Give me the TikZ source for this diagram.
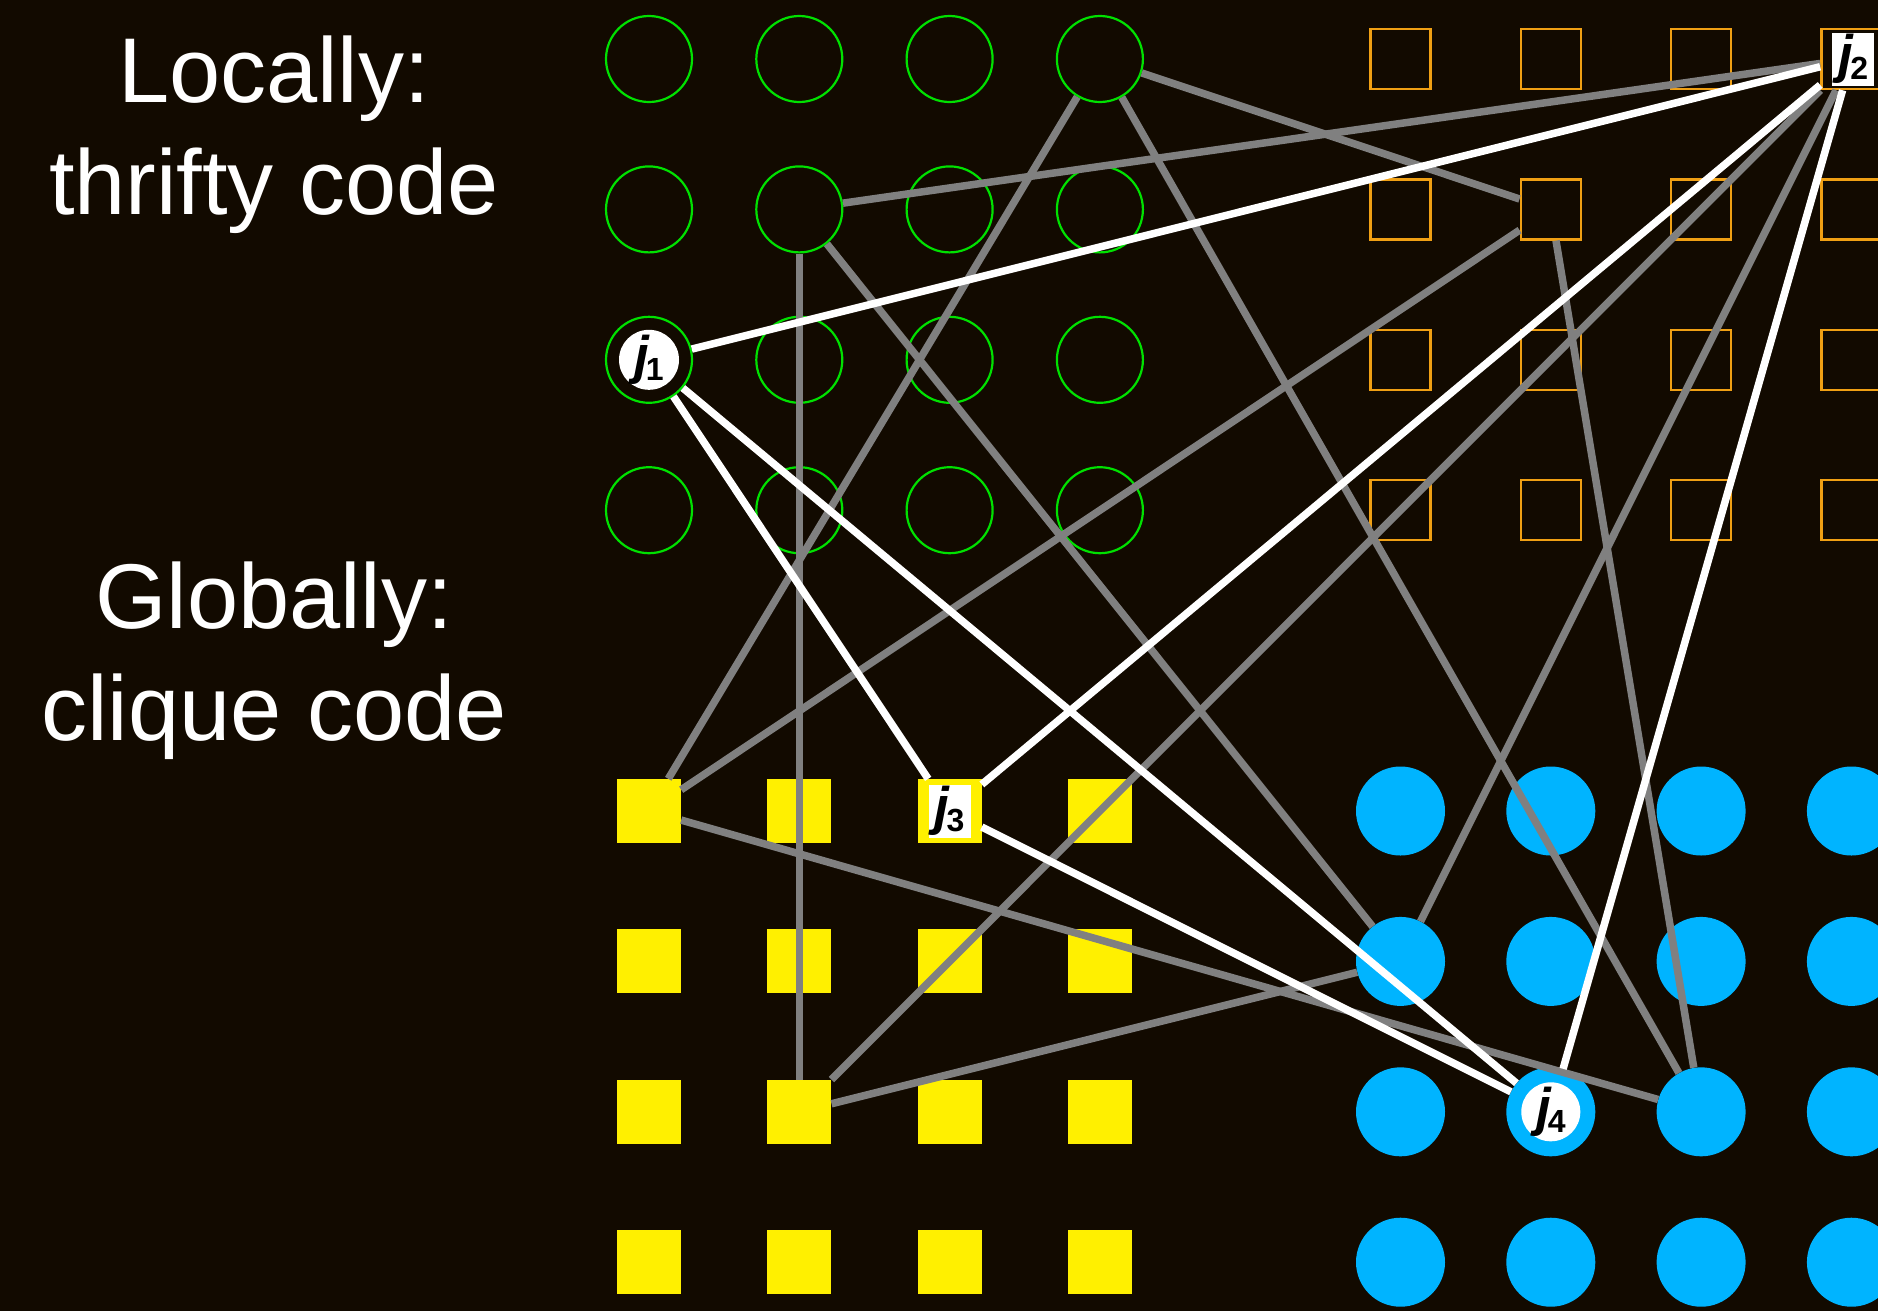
\documentclass[tikz,border=0pt]{standalone}
\usepackage{fontspec}
\setmainfont{Liberation Sans}
\definecolor{bg}{RGB}{18,10,0}
\definecolor{grn}{RGB}{0,225,0}
\definecolor{org}{RGB}{240,160,20}
\definecolor{yel}{RGB}{255,240,0}
\definecolor{blu}{RGB}{0,180,255}
\definecolor{gry}{RGB}{128,128,128}
\newcommand{\jlab}[1]{{\fontsize{53}{53}\selectfont\bfseries\itshape j}\kern-3pt{\fontsize{32}{32}\selectfont\bfseries\raisebox{-7pt}{#1}}}
\begin{document}
\begin{tikzpicture}[x=1pt,y=-1pt,
  greencirc/.style={circle,draw=grn,line width=2.2pt,minimum size=86pt,inner sep=0pt},
  orangesq/.style={rectangle,draw=org,line width=2.5pt,minimum size=60pt,inner sep=0pt},
  yellowsq/.style={rectangle,fill=yel,minimum size=64pt,inner sep=0pt},
  bluecirc/.style={circle,fill=blu,minimum size=89pt,inner sep=0pt},
  grayedge/.style={draw=gry,line width=7.5pt},
  whiteedge/.style={draw=white,line width=7.5pt},
  jdisk/.style={circle,fill=white,text=black,minimum size=60pt,inner sep=0pt},
  jrect/.style={rectangle,fill=white,text=black,minimum width=42pt,minimum height=53pt,inner sep=0pt},
  lbl/.style={text=white,font=\fontsize{92}{110}\selectfont,inner sep=0pt,anchor=base}]
\useasboundingbox (0,0) rectangle (1878,1310);
\fill[bg] (-20,-20) rectangle (1898,1330);
\clip (0,0) rectangle (1878,1310);
\foreach \c in {0,...,3}{\foreach \r in {0,...,3}{
  \node[greencirc] (g\c\r) at ({649+150.3*\c},{59+150.4*\r}) {};
  \node[orangesq] (o\c\r) at ({649+150.3*(\c+5)},{59+150.4*\r}) {};
  \node[yellowsq] (y\c\r) at ({649+150.3*\c},{59+150.4*(\r+5)}) {};
  \node[bluecirc] (b\c\r) at ({649+150.3*(\c+5)},{59+150.4*(\r+5)}) {};
}}
% gray connectors
\draw[grayedge] (g30) -- (o11);
\draw[grayedge] (g30) -- (b22);
\draw[grayedge] (g30) -- (y00);
\draw[grayedge] (o11) -- (y00);
\draw[grayedge] (g11) -- (o30);
\draw[grayedge] (g11) -- (y12);
\draw[grayedge] (g11) -- (b01);
\draw[grayedge] (y00) -- (b22);
\draw[grayedge] (y12) -- (o30);
\draw[grayedge] (y12) -- (b01);
\draw[grayedge] (o11) -- (b22);
\draw[grayedge] (o30) -- (b01);
% white clique
\draw[whiteedge] (g02) -- (o30);
\draw[whiteedge] (g02) -- (y20);
\draw[whiteedge] (g02) -- (b12);
\draw[whiteedge] (o30) -- (y20);
\draw[whiteedge] (o30) -- (b12);
\draw[whiteedge] (y20) -- (b12);
% labels
\node[jdisk] (j1) at (g02) {\jlab{1}};
\node[jrect] (j2) at ([xshift=2pt]o30.center) {\jlab{2}};
\node[jrect] (j3) at (y20) {\jlab{3}};
\node[jdisk,minimum size=59pt] (j4) at (b12) {\jlab{4}};
\node[lbl] (t1) at (274,102) {Locally:};
\node[lbl] (t2) at (274,214) {thrifty code};
\node[lbl] (t3) at (274,628) {Globally:};
\node[lbl] (t4) at (274,740) {clique code};
\end{tikzpicture}
\end{document}
